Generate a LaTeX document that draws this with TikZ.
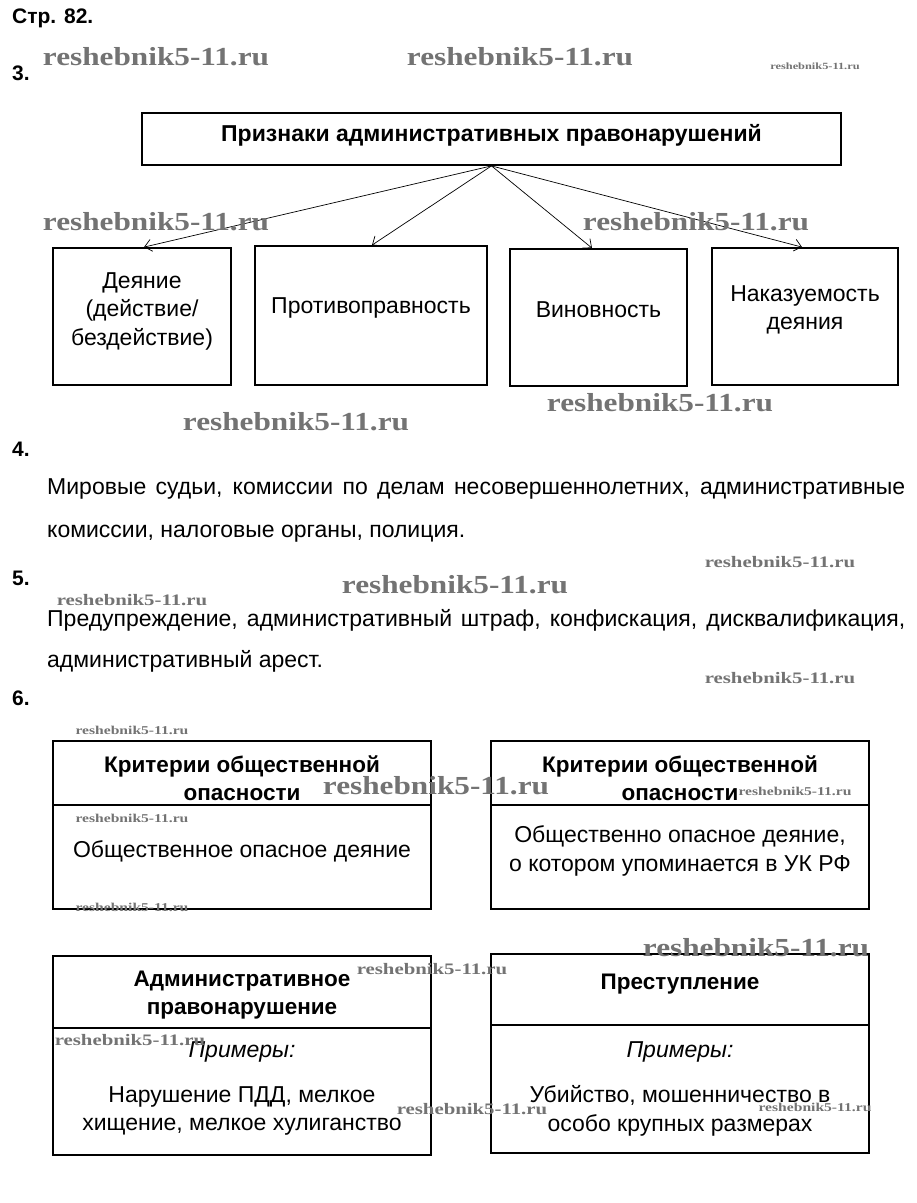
\documentclass[tikz,border=0pt]{standalone}
\usepackage{fontspec}
\setmainfont{Liberation Sans}
\newfontfamily\wmfont{Liberation Serif}
\usetikzlibrary{arrows.meta}
\tikzset{
  box/.style={draw, line width=1.8pt, inner sep=0pt},
  txt/.style={inner sep=0pt, align=center, font=\fontsize{23}{28.5}\selectfont},
  hdr/.style={inner sep=0pt, align=center, font=\bfseries\fontsize{22.5}{27.5}\selectfont},
  num/.style={inner sep=0pt, anchor=west, font=\bfseries\fontsize{21}{24}\selectfont},
  para/.style={inner sep=0pt, anchor=west, font=\fontsize{23}{26}\selectfont},
  arr/.style={line width=0.7pt, -{Straight Barb[length=7pt,width=12pt,line width=0.7pt]}},
  divl/.style={line width=1.8pt},
  wmbase/.style={inner sep=0pt, text=black!55, xscale=1.3},
  wm/.style={wmbase, xscale=0.925, font=\wmfont\bfseries\fontsize{26}{26}\selectfont},
  wms/.style={wmbase, font=\wmfont\bfseries\fontsize{16}{16}\selectfont},
  wmt/.style={wmbase, font=\wmfont\bfseries\fontsize{12}{12}\selectfont},
  wmx/.style={wmbase, font=\wmfont\bfseries\fontsize{9.5}{10}\selectfont},
}
\begin{document}
\begin{tikzpicture}[x=1pt,y=-1pt]
\useasboundingbox[fill=white] (0,0) rectangle (917,1203);

% headings
\node[num] (page) at (12,18) {Стр. 82.};
\node[num] (n3) at (12,73) {3.};
\node[num] (n4) at (12,449) {4.};
\node[num] (n5) at (12,578) {5.};
\node[num] (n6) at (12,698) {6.};

% task 3
\node[box, minimum width=699pt, minimum height=52pt] (top) at (491.5,139) {};
\node[inner sep=0pt, font=\bfseries\fontsize{23}{26}\selectfont] (toptext) at (491.5,135) {Признаки административных правонарушений};
\node[box, minimum width=178pt, minimum height=137pt] (b1) at (142,316.5) {};
\node[box, minimum width=232pt, minimum height=139pt] (b2) at (371,315.5) {};
\node[box, minimum width=177pt, minimum height=137pt] (b3) at (598.5,317.5) {};
\node[box, minimum width=186pt, minimum height=137pt] (b4) at (805,316.5) {};
\node[txt] (t1) at (142,311) {Деяние\\(действие/\\бездействие)};
\node[txt] (t2) at (371,308) {Противоправность};
\node[txt] (t3) at (598.5,310) {Виновность};
\node[txt] (t4) at (805,310) {Наказуемость\\деяния};

\draw[arr] (top.south) -- (b1.north -| 144,0);
\draw[arr] (top.south) -- (b2.north -| 372,0);
\draw[arr] (top.south) -- (b3.north -| 592,0);
\draw[arr] (top.south) -- (b4.north -| 802,0);

% task 4
\node[para] (p4a) at (47,489) {\makebox[858pt][s]{Мировые судьи, комиссии по делам несовершеннолетних, административные}};
\node[para] (p4b) at (47,534) {комиссии, налоговые органы, полиция.};

% task 5
\node[para] (p5a) at (47,620) {\makebox[858pt][s]{Предупреждение, административный штраф, конфискация, дисквалификация,}};
\node[para] (p5b) at (47,661) {административный арест.};

% task 6
\node[box, minimum width=378pt, minimum height=168pt] (A) at (242,825) {};
\draw[divl] (A.west |- 0,805) -- (A.east |- 0,805);
\node[hdr] (Ah) at (242,778) {Критерии общественной\\опасности};
\node[txt] (Ab) at (242,851) {Общественное опасное деяние};

\node[box, minimum width=378pt, minimum height=168pt] (B) at (680,825) {};
\draw[divl] (B.west |- 0,805) -- (B.east |- 0,805);
\node[hdr] (Bh) at (680,778) {Критерии общественной\\опасности};
\node[txt] (Bb) at (680,851) {Общественно опасное деяние,\\о котором упоминается в УК РФ};

\node[box, minimum width=378pt, minimum height=199pt] (C) at (242,1055.5) {};
\draw[divl] (C.west |- 0,1028) -- (C.east |- 0,1028);
\node[hdr] (Ch) at (242,995) {Административное\\правонарушение};
\node[txt, font=\itshape\fontsize{23}{28}\selectfont] (Cx) at (242,1052) {Примеры:};
\node[txt] (Cb) at (242,1111) {Нарушение ПДД, мелкое\\хищение, мелкое хулиганство};

\node[box, minimum width=378pt, minimum height=199pt] (D) at (680,1053.5) {};
\draw[divl, line width=2.6pt] (D.west |- 0,1025) -- (D.east |- 0,1025);
\node[hdr] (Dh) at (680,984) {Преступление};
\node[txt, font=\itshape\fontsize{23}{28}\selectfont] (Dx) at (680,1052) {Примеры:};
\node[txt] (Db) at (680,1111) {Убийство, мошенничество в\\особо крупных размерах};

% watermarks
\node[wm] (w1) at (156,57) {reshebnik5-11.ru};
\node[wm] (w2) at (520,57) {reshebnik5-11.ru};
\node[wmx] (w3) at (815,66) {reshebnik5-11.ru};
\node[wm] (w4) at (156,222) {reshebnik5-11.ru};
\node[wm] (w5) at (696,222) {reshebnik5-11.ru};
\node[wm] (w6) at (660,403) {reshebnik5-11.ru};
\node[wm] (w7) at (296,422) {reshebnik5-11.ru};
\node[wms] (w8) at (780,562) {reshebnik5-11.ru};
\node[wm] (w9) at (455,585) {reshebnik5-11.ru};
\node[wms] (w10) at (132,600) {reshebnik5-11.ru};
\node[wms] (w11) at (780,678) {reshebnik5-11.ru};
\node[wmt] (w12) at (132,730) {reshebnik5-11.ru};
\node[wm] (w13) at (436,786) {reshebnik5-11.ru};
\node[wmt] (w14) at (795,791) {reshebnik5-11.ru};
\node[wmt] (w15) at (132,818) {reshebnik5-11.ru};
\node[wmt] (w16) at (132,907) {reshebnik5-11.ru};
\node[wm] (w17) at (756,948) {reshebnik5-11.ru};
\node[wms] (w18) at (432,969) {reshebnik5-11.ru};
\node[wms] (w19) at (130,1040) {reshebnik5-11.ru};
\node[wms] (w20) at (472,1109) {reshebnik5-11.ru};
\node[wmt] (w21) at (815,1107) {reshebnik5-11.ru};
\end{tikzpicture}
\end{document}
